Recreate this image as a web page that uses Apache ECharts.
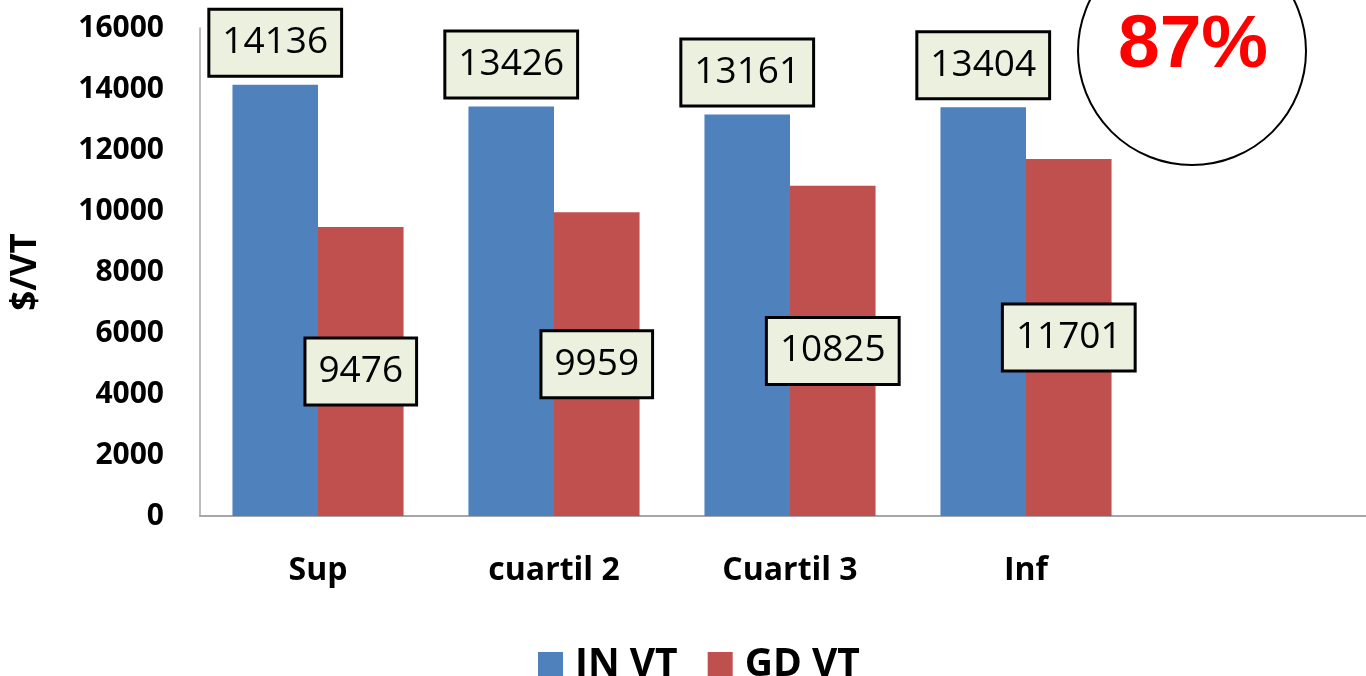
<!DOCTYPE html>
<html>
<head>
<meta charset="utf-8">
<script src="https://cdn.jsdelivr.net/npm/echarts@6/dist/echarts.min.js"></script>
<style>
html,body{margin:0;padding:0;background:#fff;}
#chart{width:1366px;height:676px;}
</style>
</head>
<body>
<div id="chart"></div>
<script>
const categories = ['Sup', 'cuartil 2', 'Cuartil 3', 'Inf'];
const inVT = [14136, 13426, 13161, 13404];
const gdVT = [9476, 9959, 10825, 11701];
const seriesNames = ['IN VT', 'GD VT'];
const yTicks = [0, 2000, 4000, 6000, 8000, 10000, 12000, 14000, 16000];
const badgeText = '87%';

const chart = echarts.init(document.getElementById('chart'));
const labelBox = {
  show: true,
  fontFamily: 'Open Sans',
  fontSize: 37,
  lineHeight: 42,
  color: '#000',
  backgroundColor: '#EBF1DE',
  borderColor: '#000',
  borderWidth: 3,
  padding: [11, 12, 11, 12]
};
chart.setOption({
  animation: false,
  backgroundColor: '#fff',
  grid: { left: 200, top: 28, bottom: 160, width: 1180, containLabel: false, outerBoundsMode: 'none' },
  legend: {
    data: seriesNames,
    left: 533,
    top: 640,
    itemWidth: 25,
    itemHeight: 26,
    itemGap: 30,
    icon: 'rect',
    textStyle: { fontFamily: 'Open Sans', fontWeight: 'bold', fontSize: 39, lineHeight: 40, color: '#000', padding: [0, 0, 0, 7] }
  },
  xAxis: {
    type: 'category',
    data: categories,
    max: categories.length,
    axisLine: { show: true, lineStyle: { color: '#a6a6a6', width: 2 } },
    axisTick: { show: false },
    axisLabel: {
      margin: 39,
      fontFamily: 'Open Sans',
      fontWeight: 'bold',
      fontSize: 32,
      color: '#000',
      interval: 0,
      formatter: function (v, i) { return categories[i] !== undefined ? categories[i] : ''; }
    }
  },
  yAxis: {
    type: 'value',
    min: yTicks[0],
    max: yTicks[yTicks.length - 1],
    interval: 2000,
    name: '$/VT',
    nameLocation: 'middle',
    nameGap: 156,
    nameTextStyle: { fontFamily: 'Open Sans', fontWeight: 'bold', fontSize: 35, color: '#000' },
    axisLine: { show: true, lineStyle: { color: '#a6a6a6', width: 1.5 } },
    axisTick: { show: false },
    splitLine: { show: false },
    axisLabel: {
      margin: 36, fontFamily: 'Open Sans', fontWeight: 'bold', fontSize: 30, color: '#000',
      formatter: function (v) { return String(v); }
    }
  },
  series: [
    {
      name: seriesNames[0], type: 'bar', data: inVT, barGap: '0%', barCategoryGap: '27.5%',
      itemStyle: { color: '#4F81BD' },
      label: Object.assign({}, labelBox, { position: 'top', distance: 10 })
    },
    {
      name: seriesNames[1], type: 'bar', data: gdVT,
      itemStyle: { color: '#C0504D' },
      label: Object.assign({}, labelBox, { position: 'inside' })
    }
  ],
  graphic: [
    { type: 'circle', shape: { cx: 1192, cy: 51, r: 114 }, style: { fill: '#fff', stroke: '#000', lineWidth: 2 }, z: 10 },
    { type: 'text', x: 1193, y: 46, style: { text: badgeText, fill: '#ff0000', font: 'bold 75px "Liberation Sans", Arial', align: 'center', verticalAlign: 'middle' }, z: 11 }
  ]
});
</script>
</body>
</html>
